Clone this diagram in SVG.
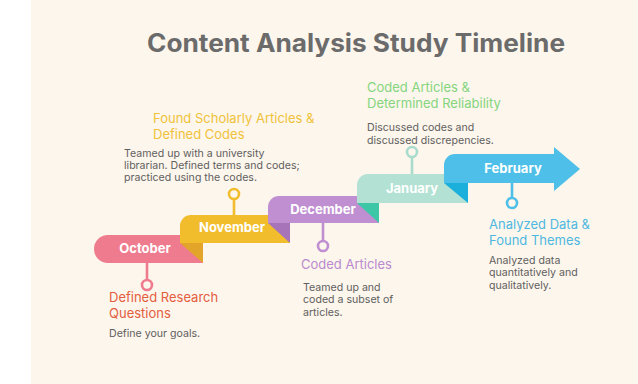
<svg xmlns="http://www.w3.org/2000/svg" width="638" height="384" viewBox="0 0 638 384">
  <style>
    .title { font-family: Inter, "Liberation Sans", sans-serif; font-weight: 700; font-size: 25px; fill: #6b6b6b; }
    .month { font-family: Inter, "Liberation Sans", sans-serif; font-weight: 700; font-size: 13px; fill: #ffffff; }
    .head { font-family: Inter, "Liberation Sans", sans-serif; font-size: 13px; }
    .body { font-family: Inter, "Liberation Sans", sans-serif; font-size: 10.6px; fill: #606060; }
    .stem { fill: none; stroke-width: 2.6; }
    .pin { fill: #fdf6ec; stroke-width: 2.6; }
  </style>

  <!-- page -->
  <rect x="0" y="0" width="638" height="384" fill="#ffffff"/>
  <rect x="31" y="0" width="607" height="384" fill="#fdf6ec"/>

  <text class="title" x="356" y="52" text-anchor="middle" textLength="418" lengthAdjust="spacingAndGlyphs">Content Analysis Study Timeline</text>

  <!-- stems and pins joining each step to its note -->
  <g id="connectors">
    <line class="stem" x1="147" y1="262" x2="147" y2="280" stroke="#ef7b8e"/>
    <circle class="pin" cx="147" cy="285" r="5" stroke="#ef7b8e"/>
    <line class="stem" x1="234" y1="216" x2="234" y2="199" stroke="#f2bd2c"/>
    <circle class="pin" cx="234" cy="194" r="5" stroke="#f2bd2c"/>
    <line class="stem" x1="323" y1="222" x2="323" y2="241" stroke="#bf8fd1"/>
    <circle class="pin" cx="323" cy="246" r="5" stroke="#bf8fd1"/>
    <line class="stem" x1="412" y1="175" x2="412" y2="157" stroke="#a9dccd"/>
    <circle class="pin" cx="412" cy="152" r="5" stroke="#a9dccd"/>
    <line class="stem" x1="512" y1="182" x2="512" y2="198" stroke="#4dbfe8"/>
    <circle class="pin" cx="512" cy="203" r="5" stroke="#4dbfe8"/>
  </g>

  <!-- staircase of month ribbons -->
  <g id="october">
    <path d="M108 235 H203 V263 H108 A14 14 0 0 1 108 235 Z" fill="#ef7b8e"/>
    <polygon points="180,243 203,243 203,263" fill="#e2a52a"/>
    <text class="month" x="145" y="253" text-anchor="middle">October</text>
  </g>
  <g id="november">
    <path d="M191 215 H290 V243 H180 V226 A11 11 0 0 1 191 215 Z" fill="#f2bd2c"/>
    <polygon points="268,223 290,223 290,243" fill="#a874b9"/>
    <text class="month" x="232" y="232" text-anchor="middle">November</text>
  </g>
  <g id="december">
    <path d="M279 196 H379 V223 H268 V207 A11 11 0 0 1 279 196 Z" fill="#bf8fd1"/>
    <polygon points="357,203 379,203 379,223" fill="#3ec7a6"/>
    <text class="month" x="323" y="214" text-anchor="middle">December</text>
  </g>
  <g id="january">
    <path d="M368 174 H468 V203 H357 V185 A11 11 0 0 1 368 174 Z" fill="#b3e2d4"/>
    <polygon points="444,183 468,183 468,203" fill="#1bafdc"/>
    <text class="month" x="412" y="193" text-anchor="middle">January</text>
  </g>
  <g id="february">
    <path d="M455 154 H554 V147 L580 169 L554 191 V183 H444 V165 A11 11 0 0 1 455 154 Z" fill="#4dbfe8"/>
    <text class="month" x="513" y="173" text-anchor="middle">February</text>
  </g>

  <!-- notes -->
  <g id="note-october">
    <text class="head" fill="#e35d3f" x="109" y="302">Defined Research</text>
    <text class="head" fill="#e35d3f" x="109" y="318">Questions</text>
    <text class="body" x="109" y="337">Define your goals.</text>
  </g>
  <g id="note-november">
    <text class="head" fill="#f0c23a" x="153" y="123">Found Scholarly Articles &amp;</text>
    <text class="head" fill="#f0c23a" x="153" y="139">Defined Codes</text>
    <text class="body" x="124" y="157">Teamed up with a university</text>
    <text class="body" x="124" y="169">librarian. Defined terms and codes;</text>
    <text class="body" x="124" y="181">practiced using the codes.</text>
  </g>
  <g id="note-december">
    <text class="head" fill="#b98acf" x="301" y="269">Coded Articles</text>
    <text class="body" x="303" y="291">Teamed up and</text>
    <text class="body" x="303" y="303">coded a subset of</text>
    <text class="body" x="303" y="316">articles.</text>
  </g>
  <g id="note-january">
    <text class="head" fill="#84d57e" x="367" y="92">Coded Articles &amp;</text>
    <text class="head" fill="#84d57e" x="367" y="108">Determined Reliability</text>
    <text class="body" x="367" y="131">Discussed codes and</text>
    <text class="body" x="367" y="144">discussed discrepencies.</text>
  </g>
  <g id="note-february">
    <text class="head" fill="#4db8e0" x="489" y="229">Analyzed Data &amp;</text>
    <text class="head" fill="#4db8e0" x="489" y="245">Found Themes</text>
    <text class="body" x="489" y="264">Analyzed data</text>
    <text class="body" x="489" y="276">quantitatively and</text>
    <text class="body" x="489" y="289">qualitatively.</text>
  </g>
</svg>
